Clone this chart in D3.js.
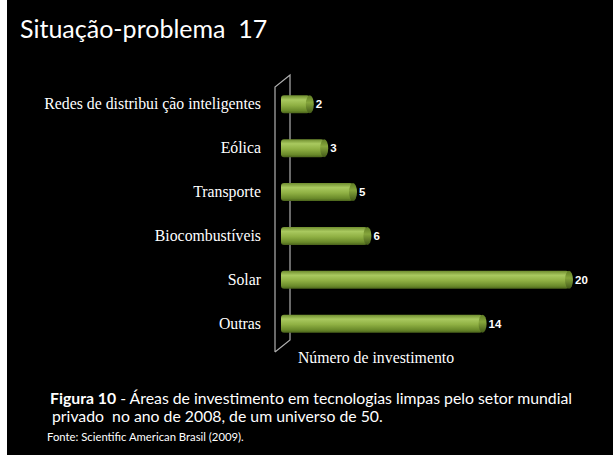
<!DOCTYPE html>
<html>
<head>
<meta charset="utf-8">
<script src="https://cdn.jsdelivr.net/npm/d3@7"></script>
<style>
  html, body { margin: 0; padding: 0; background: #fff; }
  svg { display: block; }
</style>
</head>
<body>
<svg id="chart" width="613" height="455"></svg>
<script>
// Investment areas in clean technologies (count out of 50)
const categories = ["Redes de distribui ção inteligentes", "Eólica", "Transporte", "Biocombustíveis", "Solar", "Outras"];
const values = [2, 3, 5, 6, 20, 14];

const titleText = "Situação-problema  17";
const axisTitle = "Número de investimento";
const captionBold = "Figura 10";
const captionLine1 = " - Áreas de investimento em tecnologias limpas pelo setor mundial";
const captionLine2 = "privado  no ano de 2008, de um universo de 50.";
const sourceText = "Fonte: Scientific American Brasil (2009).";

const svg = d3.select("#chart");
const W = 613, H = 455;

// slide background
svg.append("rect").attr("x", 7).attr("y", 0).attr("width", W - 7).attr("height", H).attr("fill", "#000");

// gradients for the cylinder bars
const defs = svg.append("defs");
const g1 = defs.append("linearGradient").attr("id", "barGrad").attr("x1", 0).attr("y1", 0).attr("x2", 0).attr("y2", 1);
[["0%", "#6e8c2e"], ["25%", "#a9c95f"], ["55%", "#8fb043"], ["85%", "#6a8a2a"], ["100%", "#4a621b"]]
  .forEach(([o, c]) => g1.append("stop").attr("offset", o).attr("stop-color", c));
const g2 = defs.append("linearGradient").attr("id", "capGrad").attr("x1", 0).attr("y1", 0).attr("x2", 0).attr("y2", 1);
[["0%", "#5f7c24"], ["40%", "#86a63c"], ["100%", "#415817"]]
  .forEach(([o, c]) => g2.append("stop").attr("offset", o).attr("stop-color", c));

// scales
const x = d3.scaleLinear().domain([0, 20]).range([281, 569]);
const y = d3.scaleBand().domain(categories).range([82, 346]).paddingInner(0.58).paddingOuter(0.3);

// 3D wall along the category axis
const wall = svg.append("g").attr("fill", "none").attr("stroke", "#b0b0b0").attr("stroke-width", 1.2);
wall.append("path").attr("d", "M275,352 L275,87 L290,75 L290,340 L275,352");

// bars
const bh = 18;
const bars = svg.append("g");
categories.forEach((c, i) => {
  const cy = y(c) + y.bandwidth() / 2;
  const x0 = x(0), x1 = x(values[i]);
  bars.append("rect").attr("x", x0).attr("y", cy - bh / 2).attr("width", x1 - x0).attr("height", bh)
    .attr("rx", 3).attr("fill", "url(#barGrad)");
  bars.append("ellipse").attr("cx", x1).attr("cy", cy).attr("rx", 4).attr("ry", bh / 2)
    .attr("fill", "url(#capGrad)");
  // value label
  svg.append("text").attr("x", x1 + 6).attr("y", cy + 4)
    .attr("font-family", "Liberation Sans, Arial, sans-serif").attr("font-weight", "bold")
    .attr("font-size", 11.5).attr("fill", "#fff").text(values[i]);
});

// category labels
svg.append("g").selectAll("text").data(categories).join("text")
  .attr("x", 261).attr("y", d => y(d) + y.bandwidth() / 2 + 5)
  .attr("text-anchor", "end")
  .attr("font-family", "Liberation Serif, 'Times New Roman', serif")
  .attr("font-size", 15.8).attr("fill", "#fff")
  .text(d => d);

// axis title
svg.append("text").attr("x", 376).attr("y", 363).attr("text-anchor", "middle")
  .attr("font-family", "Liberation Serif, 'Times New Roman', serif")
  .attr("font-size", 15.8).attr("fill", "#fff").text(axisTitle);

// slide title
svg.append("text").attr("x", 20).attr("y", 38).attr("xml:space", "preserve")
  .attr("font-family", "Lato, 'Open Sans', sans-serif")
  .attr("font-size", 25).attr("fill", "#fff").text(titleText);

// caption
const capFont = "Lato, 'Open Sans', sans-serif";
const cap = svg.append("text").attr("x", 50).attr("y", 404)
  .attr("font-family", capFont).attr("font-size", 15.8).attr("fill", "#fff");
cap.append("tspan").attr("font-weight", "bold").text(captionBold);
cap.append("tspan").text(captionLine1);
svg.append("text").attr("x", 52).attr("y", 422).attr("xml:space", "preserve")
  .attr("font-family", capFont).attr("font-size", 15.8).attr("fill", "#fff").text(captionLine2);
svg.append("text").attr("x", 47).attr("y", 441)
  .attr("font-family", capFont).attr("font-size", 11.3).attr("fill", "#fff").text(sourceText);
</script>
</body>
</html>
